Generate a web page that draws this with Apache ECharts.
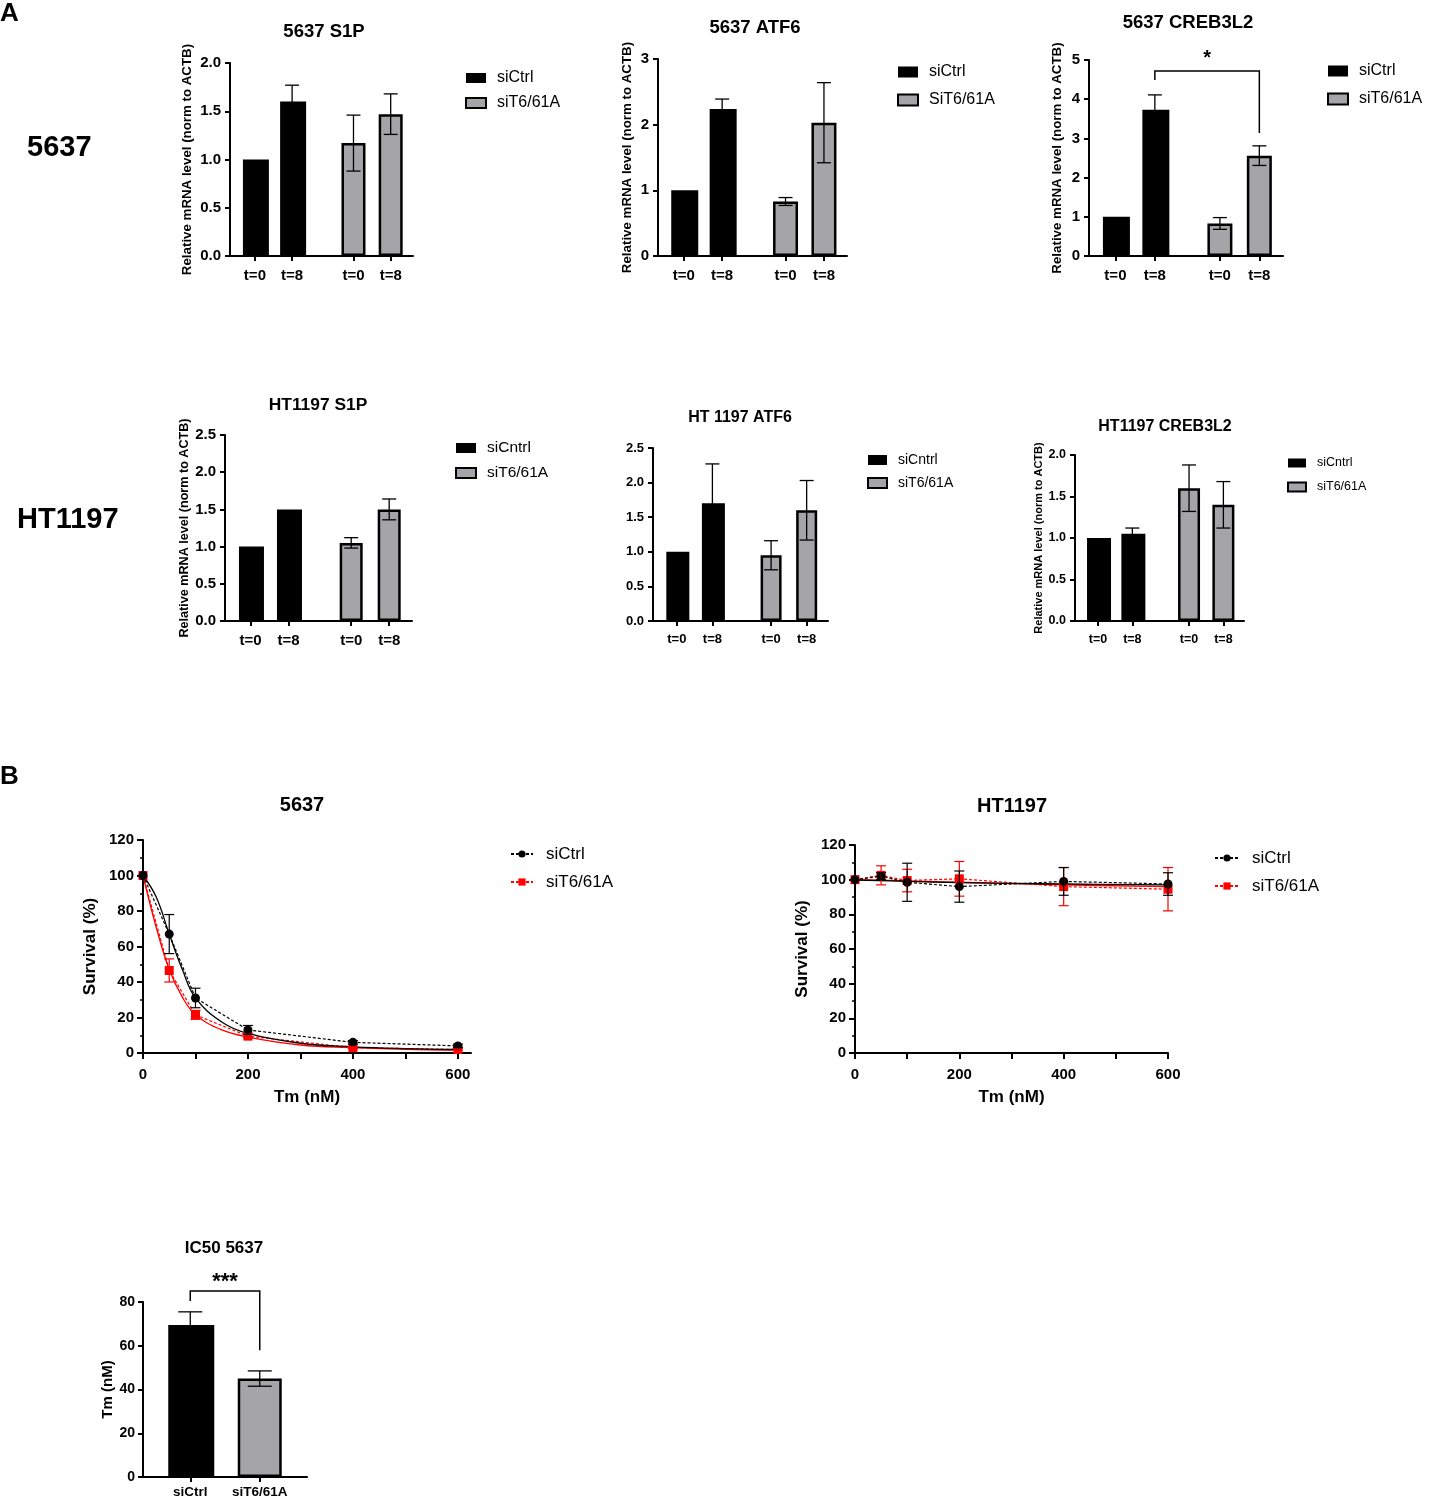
<!DOCTYPE html>
<html lang="en">
<head>
<meta charset="utf-8">
<title>S1P / ATF6 / CREB3L2 and Tm survival</title>
<script src="https://cdn.jsdelivr.net/npm/echarts@6/dist/echarts.min.js"></script>
<style>
html, body { margin: 0; padding: 0; background: #fff; }
#fig { width: 1431px; height: 1503px; }
</style>
</head>
<body>
<div id="fig"></div>
<script>
// ---- data ----
var groups4 = ['t=0', 't=8', 't=0', 't=8'];

var s1p5637Mean = [1.00, 1.60, 1.17, 1.47];
var s1p5637Sd   = [0, 0.17, 0.29, 0.21];
var atf5637Mean = [1.00, 2.24, 0.83, 2.03];
var atf5637Sd   = [0, 0.15, 0.06, 0.61];
var creb5637Mean = [1.00, 3.73, 0.83, 2.56];
var creb5637Sd   = [0, 0.38, 0.15, 0.25];
var creb5637Sig  = { from: 1, to: 3, top: 4.72, left: 4.49, right: 3.14, mark: '*' };

var s1pHtMean = [1.00, 1.50, 1.05, 1.50];
var s1pHtSd   = [0, 0, 0.07, 0.14];
var atfHtMean = [1.00, 1.70, 0.95, 1.60];
var atfHtSd   = [0, 0.57, 0.21, 0.43];
var crebHtMean = [1.00, 1.05, 1.60, 1.40];
var crebHtSd   = [0, 0.07, 0.28, 0.28];

var doses = [0, 50, 100, 200, 400, 600];
var surv5637Ctrl   = [100, 67, 31, 13, 6, 4];
var surv5637CtrlSd = [0, 11, 5.5, 2.5, 1, 1];
var surv5637Kd     = [100, 46.5, 21.5, 9.5, 3, 2];
var surv5637KdSd   = [0, 6.5, 2.5, 1, 0.5, 0.5];
var fitDoses5637   = [0, 25, 50, 75, 100, 150, 200, 300, 400, 500, 600];
var fit5637Ctrl    = [100, 88, 67, 47, 31, 17.5, 11, 5.5, 3.5, 2.5, 2];
var fit5637Kd      = [100, 71, 47, 31.5, 21.5, 13, 9, 4.5, 3, 2, 1.5];

var survHtCtrl   = [100, 102, 98.5, 96, 99, 97.5];
var survHtCtrlSd = [0, 2, 11, 9, 8, 6.5];
var survHtKd     = [100, 102.5, 99.5, 100.5, 96, 94.5];
var survHtKdSd   = [0, 5.5, 6.5, 10, 11, 12.5];
var fitDosesHt   = [0, 100, 200, 400, 600];
var fitHtCtrl    = [99.8, 99, 98.3, 97.5, 97];
var fitHtKd      = [100, 99.3, 98.5, 97, 96];

var icGroups = ['siCtrl', 'siT6/61A'];
var icMean = [69.5, 45];
var icSd   = [6, 3.5];
var icSig  = { from: 0, to: 1, top: 85, left: 80.5, right: 58, mark: '***' };

// ---- drawing ----
var FONT = '"Liberation Sans", Arial, sans-serif';
var GREY = '#a5a5a9';
var RED = '#ff0000';
var GAP = 0.65;   // extra room between the siCtrl pair and the knockdown pair

function slot(i) { return i + (i >= 2 ? GAP : 0); }

var option = {
  backgroundColor: '#fff',
  animation: false,
  grid: [], xAxis: [], yAxis: [], series: [], legend: [], graphic: []
};

function addText(text, x, y, size, align) {
  option.graphic.push({
    type: 'text', x: x, y: y, silent: true,
    style: {
      text: text, font: 'bold ' + size + 'px ' + FONT, fill: '#000',
      textAlign: align || 'center', textVerticalAlign: 'middle',
      align: align || 'center', verticalAlign: 'middle'
    }
  });
}

function lineStyleBlack() { return { color: '#000', width: 2 }; }

function errRender(color, cap, lw) {
  return function (params, api) {
    var x = api.value(0), m = api.value(1), s = api.value(2);
    if (!s) return { type: 'group', children: [] };
    var hi = api.coord([x, m + s]);
    var lo = api.coord([x, m - s]);
    var st = { stroke: color, lineWidth: lw };
    return {
      type: 'group',
      children: [
        { type: 'line', shape: { x1: hi[0], y1: hi[1], x2: lo[0], y2: lo[1] }, style: st },
        { type: 'line', shape: { x1: hi[0] - cap, y1: hi[1], x2: hi[0] + cap, y2: hi[1] }, style: st },
        { type: 'line', shape: { x1: lo[0] - cap, y1: lo[1], x2: lo[0] + cap, y2: lo[1] }, style: st }
      ]
    };
  };
}

function errSeries(gi, xs, mean, sd, color, cap, lw) {
  return {
    type: 'custom', name: 'err' + option.series.length, xAxisIndex: gi, yAxisIndex: gi,
    silent: true, clip: false, z: 4,
    dimensions: ['x', 'y', 'sd'], encode: { x: 0, y: 1 },
    renderItem: errRender(color, cap, lw),
    data: xs.map(function (x, i) { return [x, mean[i], sd[i]]; })
  };
}

function bracketSeries(gi, b, x1, x2, size, lift) {
  return {
    type: 'custom', name: 'sig' + option.series.length, xAxisIndex: gi, yAxisIndex: gi,
    silent: true, clip: false, z: 5,
    encode: { x: [0, 1], y: [2, 3, 4] },
    data: [[x1, x2, b.top, b.left, b.right]],
    renderItem: function (params, api) {
      var a = api.coord([api.value(0), api.value(3)]);
      var t1 = api.coord([api.value(0), api.value(2)]);
      var t2 = api.coord([api.value(1), api.value(2)]);
      var c = api.coord([api.value(1), api.value(4)]);
      return {
        type: 'group',
        children: [
          { type: 'polyline', shape: { points: [a, t1, t2, c] }, style: { stroke: '#000', lineWidth: 1.5, fill: null } },
          { type: 'text', x: (t1[0] + t2[0]) / 2, y: t1[1] - lift,
            style: { text: b.mark, font: 'bold ' + size + 'px ' + FONT, fill: '#000',
                     textAlign: 'center', textVerticalAlign: 'middle', align: 'center', verticalAlign: 'middle' } }
        ]
      };
    }
  };
}

function addBarPanel(p) {
  var gi = option.grid.length;
  var pos = p.mean.map(function (v, i) { return slot(i); });
  option.grid.push({ left: p.box[0], top: p.box[1], width: p.box[2], height: p.box[3] });
  option.xAxis.push({
    type: 'value', gridIndex: gi, min: -0.67, max: 4.25,
    axisLine: { show: true, onZero: false, lineStyle: lineStyleBlack() },
    axisTick: { show: true, customValues: pos, length: 5, lineStyle: lineStyleBlack() },
    axisLabel: {
      customValues: pos, color: '#000', fontFamily: FONT, fontWeight: 'bold', fontSize: p.font, margin: 12,
      formatter: function (v) {
        for (var i = 0; i < pos.length; i++) if (Math.abs(pos[i] - v) < 1e-6) return groups4[i];
        return '';
      }
    },
    splitLine: { show: false }
  });
  option.yAxis.push({
    type: 'value', gridIndex: gi, min: 0, max: p.yMax, interval: p.step,
    name: p.yName ? 'Relative mRNA level (norm to ACTB)' : '',
    nameLocation: 'middle', nameGap: p.nameGap,
    nameTextStyle: { color: '#000', fontFamily: FONT, fontWeight: 'bold', fontSize: p.nameSize },
    axisLine: { show: true, onZero: false, lineStyle: lineStyleBlack() },
    axisTick: { show: true, length: 5, lineStyle: lineStyleBlack() },
    axisLabel: {
      color: '#000', fontFamily: FONT, fontWeight: 'bold', fontSize: p.font, margin: 9,
      formatter: function (v) { return v.toFixed(p.dec); }
    },
    splitLine: { show: false }
  });
  option.series.push({
    type: 'bar', name: p.legend[0], xAxisIndex: gi, yAxisIndex: gi,
    barWidth: p.barW, barGap: '-100%', itemStyle: { color: '#000' },
    data: [[pos[0], p.mean[0]], [pos[1], p.mean[1]]]
  });
  option.series.push({
    type: 'bar', name: p.legend[1], xAxisIndex: gi, yAxisIndex: gi,
    barWidth: p.barW - 2, barGap: '-100%',
    itemStyle: { color: GREY, borderColor: '#000', borderWidth: 2.5 },
    data: [[pos[2], p.mean[2]], [pos[3], p.mean[3]]]
  });
  option.series.push(errSeries(gi, pos, p.mean, p.sd, '#000', p.cap, 1.3));
  if (p.sig) option.series.push(bracketSeries(gi, p.sig, pos[p.sig.from], pos[p.sig.to], 20, 12));
  option.legend.push({
    data: p.legend, orient: 'vertical', left: p.leg[0], top: p.leg[1], padding: 0, itemGap: p.leg[2],
    itemWidth: p.icon[0], itemHeight: p.icon[1], icon: 'rect', selectedMode: false,
    itemStyle: { borderWidth: 2 },
    textStyle: { color: '#000', fontFamily: FONT, fontSize: p.legFont, lineHeight: 16, padding: [0, 0, 0, 6] }
  });
  addText(p.title, p.titleXY[0], p.titleXY[1], p.titleSize);
}

function addSurvPanel(p) {
  var gi = option.grid.length;
  option.grid.push({ left: p.box[0], top: p.box[1], width: p.box[2], height: p.box[3] });
  option.xAxis.push({
    type: 'value', gridIndex: gi, min: 0, max: p.xMax,
    name: 'Tm (nM)', nameLocation: 'middle', nameGap: 36,
    nameTextStyle: { color: '#000', fontFamily: FONT, fontWeight: 'bold', fontSize: 17 },
    axisLine: { show: true, onZero: false, lineStyle: lineStyleBlack() },
    axisTick: { show: true, customValues: [0, 100, 200, 300, 400, 500, 600], length: 6, lineStyle: lineStyleBlack() },
    axisLabel: { customValues: [0, 200, 400, 600], color: '#000', fontFamily: FONT, fontWeight: 'bold', fontSize: 15, margin: 14 },
    splitLine: { show: false }
  });
  option.yAxis.push({
    type: 'value', gridIndex: gi, min: 0, max: 120, interval: 20,
    name: 'Survival (%)', nameLocation: 'middle', nameGap: 44,
    nameTextStyle: { color: '#000', fontFamily: FONT, fontWeight: 'bold', fontSize: 17 },
    axisLine: { show: true, onZero: false, lineStyle: lineStyleBlack() },
    axisTick: { show: true, length: 6, lineStyle: lineStyleBlack() },
    minorTick: { show: true, splitNumber: 2, length: 3, lineStyle: { color: '#000', width: 1.5 } },
    axisLabel: { color: '#000', fontFamily: FONT, fontWeight: 'bold', fontSize: 15, margin: 9 },
    splitLine: { show: false }, minorSplitLine: { show: false }
  });
  function pts(xs, ys) { return xs.map(function (x, i) { return [x, ys[i]]; }); }
  // knockdown first so the siCtrl markers sit on top
  option.series.push(errSeries(gi, doses, p.kd, p.kdSd, RED, 5, 1.2));
  option.series.push({
    type: 'line', name: 'fitKd' + gi, xAxisIndex: gi, yAxisIndex: gi, smooth: 0.4, symbol: 'none', silent: true,
    lineStyle: { color: RED, width: 1.3 }, data: pts(p.fitX, p.fitKd)
  });
  option.series.push({
    type: 'line', name: 'siT6/61A ', xAxisIndex: gi, yAxisIndex: gi, symbol: 'rect', symbolSize: 9,
    itemStyle: { color: RED }, lineStyle: { color: RED, width: 1.2, type: [3, 2] },
    data: pts(doses, p.kd)
  });
  option.series.push(errSeries(gi, doses, p.ctrl, p.ctrlSd, '#000', 5, 1.2));
  option.series.push({
    type: 'line', name: 'fitCtrl' + gi, xAxisIndex: gi, yAxisIndex: gi, smooth: 0.4, symbol: 'none', silent: true,
    lineStyle: { color: '#000', width: 1.3 }, data: pts(p.fitX, p.fitCtrl)
  });
  option.series.push({
    type: 'line', name: 'siCtrl ', xAxisIndex: gi, yAxisIndex: gi, symbol: 'circle', symbolSize: 9,
    itemStyle: { color: '#000' }, lineStyle: { color: '#000', width: 1.2, type: [3, 2] },
    data: pts(doses, p.ctrl)
  });
  option.legend.push({
    data: ['siCtrl ', 'siT6/61A '], orient: 'vertical', left: p.leg[0], top: p.leg[1], padding: 0, itemGap: 10,
    itemWidth: p.leg[2], itemHeight: 9, selectedMode: false,
    formatter: function (n) { return n.trim(); },
    textStyle: { color: '#000', fontFamily: FONT, fontSize: 17, lineHeight: 18, padding: [0, 0, 0, 8] }
  });
  addText(p.title, p.titleXY[0], p.titleXY[1], 20);
}

function addIcPanel() {
  var gi = option.grid.length;
  var pos = [0, 1];
  option.grid.push({ left: 143, top: 1302, width: 164, height: 175 });
  option.xAxis.push({
    type: 'value', gridIndex: gi, min: -0.68, max: 1.68,
    axisLine: { show: true, onZero: false, lineStyle: lineStyleBlack() },
    axisTick: { show: true, customValues: pos, length: 5, lineStyle: lineStyleBlack() },
    axisLabel: {
      customValues: pos, color: '#000', fontFamily: FONT, fontWeight: 'bold', fontSize: 13.5, margin: 8,
      formatter: function (v) { return icGroups[Math.round(v)]; }
    },
    splitLine: { show: false }
  });
  option.yAxis.push({
    type: 'value', gridIndex: gi, min: 0, max: 80, interval: 20,
    name: 'Tm (nM)', nameLocation: 'middle', nameGap: 26,
    nameTextStyle: { color: '#000', fontFamily: FONT, fontWeight: 'bold', fontSize: 15 },
    axisLine: { show: true, onZero: false, lineStyle: lineStyleBlack() },
    axisTick: { show: true, length: 5, lineStyle: lineStyleBlack() },
    axisLabel: { color: '#000', fontFamily: FONT, fontWeight: 'bold', fontSize: 14, margin: 8 },
    splitLine: { show: false }
  });
  option.series.push({
    type: 'bar', name: 'icCtrl', xAxisIndex: gi, yAxisIndex: gi, barWidth: 46, barGap: '-100%',
    itemStyle: { color: '#000' }, data: [[pos[0], icMean[0]]]
  });
  option.series.push({
    type: 'bar', name: 'icKd', xAxisIndex: gi, yAxisIndex: gi, barWidth: 44, barGap: '-100%',
    itemStyle: { color: GREY, borderColor: '#000', borderWidth: 2.5 }, data: [[pos[1], icMean[1]]]
  });
  option.series.push(errSeries(gi, pos, icMean, icSd, '#000', 12, 1.3));
  option.series.push(bracketSeries(gi, icSig, pos[icSig.from], pos[icSig.to], 22, 9));
  addText('IC50 5637', 224, 1248, 17);
}

// row 1 (5637)
addBarPanel({ title: '5637 S1P', titleXY: [324, 32], titleSize: 18.5, mean: s1p5637Mean, sd: s1p5637Sd,
  legend: ['siCtrl', 'siT6/61A'], box: [230, 63, 183, 193], yMax: 2, step: 0.5, dec: 1,
  barW: 26, cap: 7, font: 15, yName: true, nameSize: 13.3, nameGap: 36,
  leg: [465, 70, 9], icon: [20, 10], legFont: 16 });
addBarPanel({ title: '5637 ATF6', titleXY: [755, 28], titleSize: 18.5, mean: atf5637Mean, sd: atf5637Sd,
  legend: ['siCtrl', 'SiT6/61A'], box: [658, 59, 189, 197], yMax: 3, step: 1, dec: 0,
  barW: 27, cap: 7, font: 15, yName: true, nameSize: 13.3, nameGap: 24,
  leg: [897, 64, 12], icon: [20, 11], legFont: 16 });
addBarPanel({ title: '5637 CREB3L2', titleXY: [1188, 23], titleSize: 18.5, mean: creb5637Mean, sd: creb5637Sd,
  legend: ['siCtrl', 'siT6/61A'], box: [1089, 60, 194, 196], yMax: 5, step: 1, dec: 0,
  barW: 27, cap: 7, font: 15, yName: true, nameSize: 13.3, nameGap: 25, sig: creb5637Sig,
  leg: [1327, 63, 12], icon: [20, 11], legFont: 16 });

// row 2 (HT1197)
addBarPanel({ title: 'HT1197 S1P', titleXY: [318, 405], titleSize: 17.4, mean: s1pHtMean, sd: s1pHtSd,
  legend: ['siCntrl', 'siT6/61A'], box: [225, 435, 187, 186], yMax: 2.5, step: 0.5, dec: 1,
  barW: 25, cap: 7, font: 15, yName: true, nameSize: 12.6, nameGap: 30,
  leg: [455, 440, 9], icon: [20, 10], legFont: 15.5 });
addBarPanel({ title: 'HT 1197 ATF6', titleXY: [740, 418], titleSize: 16, mean: atfHtMean, sd: atfHtSd,
  legend: ['siCntrl', 'siT6/61A'], box: [653, 448, 175, 173], yMax: 2.5, step: 0.5, dec: 1,
  barW: 23, cap: 7, font: 13, yName: false,
  leg: [867, 452, 7], icon: [19, 10], legFont: 14 });
addBarPanel({ title: 'HT1197 CREB3L2', titleXY: [1165, 427], titleSize: 16, mean: crebHtMean, sd: crebHtSd,
  legend: ['siCntrl', 'siT6/61A'], box: [1075, 455, 169, 166], yMax: 2, step: 0.5, dec: 1,
  barW: 24, cap: 7, font: 12.5, yName: true, nameSize: 11, nameGap: 27,
  leg: [1287, 455, 8], icon: [18, 9], legFont: 12.5 });

// panel B
addSurvPanel({ title: '5637', titleXY: [302, 805], box: [143, 840, 328, 213], xMax: 625,
  ctrl: surv5637Ctrl, ctrlSd: surv5637CtrlSd, kd: surv5637Kd, kdSd: surv5637KdSd,
  fitX: fitDoses5637, fitCtrl: fit5637Ctrl, fitKd: fit5637Kd, leg: [510, 845, 22] });
addSurvPanel({ title: 'HT1197', titleXY: [1012, 806], box: [855, 845, 313, 208], xMax: 600,
  ctrl: survHtCtrl, ctrlSd: survHtCtrlSd, kd: survHtKd, kdSd: survHtKdSd,
  fitX: fitDosesHt, fitCtrl: fitHtCtrl, fitKd: fitHtKd, leg: [1214, 849, 24] });

addIcPanel();

// figure letters and row labels
addText('A', 0, 14, 26, 'left');
addText('B', 0, 777, 26, 'left');
addText('5637', 27, 148, 29, 'left');
addText('HT1197', 17, 520, 29, 'left');

var chart = echarts.init(document.getElementById('fig'));
chart.setOption(option);
</script>
</body>
</html>
